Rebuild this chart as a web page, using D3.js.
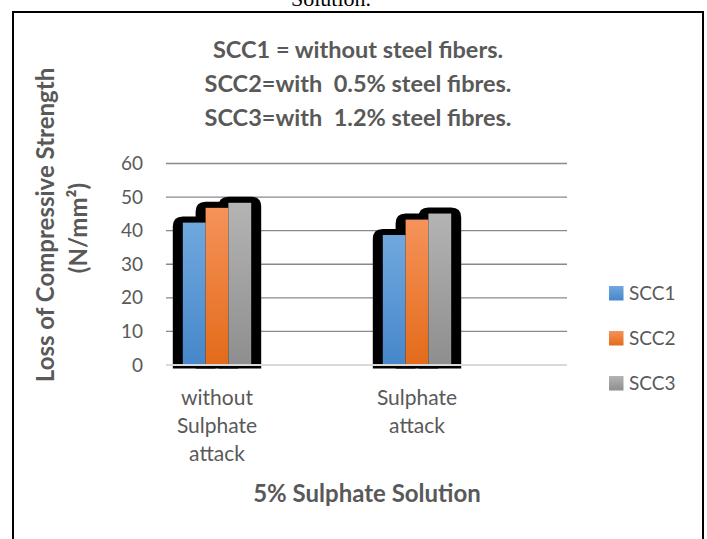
<!DOCTYPE html>
<html><head><meta charset="utf-8">
<script src="https://cdn.jsdelivr.net/npm/d3@7"></script>
<style>
html,body{margin:0;padding:0;background:#fff;}
svg text{font-family:Lato,"Open Sans",sans-serif;}
</style></head>
<body>
<svg id="c" width="707" height="539"></svg>
<script>
const categories = ["without Sulphate attack", "Sulphate attack"];
const seriesNames = ["SCC1", "SCC2", "SCC3"];
const SCC1 = [42.4, 38.7];
const SCC2 = [46.8, 43.3];
const SCC3 = [48.3, 45.1];
const yTicks = [0, 10, 20, 30, 40, 50, 60];
const titleLines = ["SCC1 = without steel fibers.", "SCC2=with  0.5% steel fibres.", "SCC3=with  1.2% steel fibres."];
const yTitleLines = ["Loss of Compressive Strength", "(N/mm\u00B2)"];
const xTitle = "5% Sulphate Solution";
const seriesValues = [SCC1, SCC2, SCC3];

const svg = d3.select("#c");
const textColor = "#595959";
const grads = [["#70a8de", "#4687ca"], ["#f6925a", "#e36b1a"], ["#b4b4b4", "#8e8e8e"]];

const defs = svg.append("defs");
grads.forEach((g, i) => {
  const lg = defs.append("linearGradient").attr("id", "g" + i).attr("x1", 0).attr("y1", 0).attr("x2", 0).attr("y2", 1);
  lg.append("stop").attr("offset", "0%").attr("stop-color", g[0]);
  lg.append("stop").attr("offset", "100%").attr("stop-color", g[1]);
});

// cut caption at top
svg.append("text").attr("x", 331).attr("y", 6).attr("text-anchor", "middle")
  .style("font-family", "'Liberation Serif', serif").style("font-size", "22px").attr("fill", "#000").text("Solution.");

// border
svg.append("rect").attr("x", 13).attr("y", 12).attr("width", 690).attr("height", 560)
  .attr("fill", "none").attr("stroke", "#000").attr("stroke-width", 2);

// scales
const plotL = 166, plotR = 567;
const y = d3.scaleLinear().domain([0, 60]).range([365, 163.5]);
const x = d3.scaleBand().domain(categories).range([117, 517]).paddingInner(0.658).paddingOuter(0.329);
const xs = d3.scaleBand().domain(seriesNames).range([0, x.bandwidth()]);

// gridlines
svg.append("g").selectAll("line").data(yTicks.filter(t => t > 0)).join("line")
  .attr("x1", plotL).attr("x2", plotR).attr("y1", d => y(d)).attr("y2", d => y(d))
  .attr("stroke", "#898989").attr("stroke-width", 1.4);

// y tick labels
svg.append("g").selectAll("text").data(yTicks).join("text")
  .attr("x", 143).attr("y", d => y(d) + 6.5).attr("text-anchor", "end")
  .style("font-size", "19px").attr("fill", textColor).text(d => d);

// data rows
const rows = [];
seriesNames.forEach((s, si) => categories.forEach((c, ci) => rows.push({s, si, c, v: seriesValues[si][ci]})));

// shadows
const r = 10, padX = 10, padT = 6, bottom = 368.5;
svg.append("g").selectAll("path").data(rows).join("path")
  .attr("fill", "#000")
  .attr("d", d => {
    const x0 = x(d.c) + xs(d.s) - padX, x1 = x(d.c) + xs(d.s) + xs.bandwidth() + padX;
    const t = y(d.v) - padT;
    return `M${x0},${bottom} L${x0},${t + r} Q${x0},${t} ${x0 + r},${t} L${x1 - r},${t} Q${x1},${t} ${x1},${t + r} L${x1},${bottom} Z`;
  });

// bars
svg.append("g").selectAll("rect").data(rows).join("rect")
  .attr("x", d => x(d.c) + xs(d.s)).attr("width", xs.bandwidth())
  .attr("y", d => y(d.v)).attr("height", d => y(0) - y(d.v))
  .attr("fill", d => `url(#g${d.si})`);

// zero axis line
svg.append("line").attr("x1", plotL).attr("x2", plotR).attr("y1", y(0)).attr("y2", y(0))
  .attr("stroke", "#d9d9d9").attr("stroke-width", 2);

// category labels
const cl = svg.append("g").selectAll("text").data(categories).join("text")
  .attr("text-anchor", "middle").style("font-size", "21px").attr("fill", textColor);
cl.each(function(d) {
  const words = d.split(" ");
  d3.select(this).selectAll("tspan").data(words).join("tspan")
    .attr("x", x(d) + x.bandwidth() / 2).attr("y", (w, i) => 405 + i * 28).text(w => w);
});

// title
svg.append("g").selectAll("text").data(titleLines).join("text")
  .attr("x", 358).attr("y", (d, i) => 58 + i * 34).attr("text-anchor", "middle")
  .style("font-size", "23.5px").style("font-weight", "bold").style("white-space", "pre")
  .attr("fill", textColor).text(d => d);

// y title
svg.append("g").selectAll("text").data(yTitleLines).join("text")
  .attr("transform", (d, i) => `translate(${i === 0 ? 54 : 87},${i === 0 ? 225 : 228}) rotate(-90)`)
  .attr("text-anchor", "middle").style("font-size", "24px").style("font-weight", "bold")
  .attr("fill", textColor).text(d => d);

// x title
svg.append("text").attr("x", 367).attr("y", 502).attr("text-anchor", "middle")
  .style("font-size", "24px").style("font-weight", "bold").attr("fill", textColor).text(xTitle);

// legend
const lg = svg.append("g").selectAll("g").data(seriesNames).join("g")
  .attr("transform", (d, i) => `translate(609,${286 + i * 45})`);
lg.append("rect").attr("width", 14.5).attr("height", 14.5).attr("fill", (d, i) => `url(#g${i})`);
lg.append("text").attr("x", 20).attr("y", 14).style("font-size", "19px").attr("fill", textColor).text(d => d);
</script>
</body></html>
